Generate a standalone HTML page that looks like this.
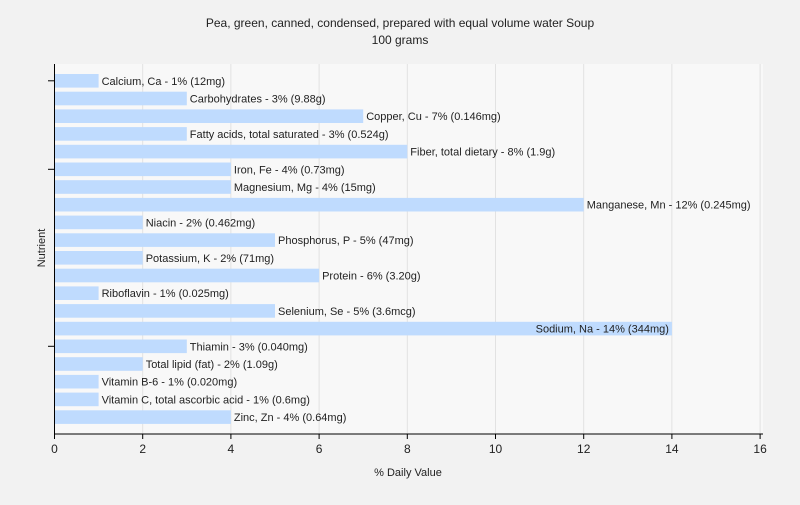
<!DOCTYPE html>
<html><head><meta charset="utf-8"><style>
body{margin:0;background:#f2f2f2;font-family:"Liberation Sans",sans-serif;}
svg text{font-family:"Liberation Sans",sans-serif;}
</style></head><body>
<svg id="c" width="800" height="500">
<rect width="800" height="500" fill="#f2f2f2"/>
<rect x="54" y="64" width="709" height="370" fill="#f8f8f8"/>
<text x="400" y="27" text-anchor="middle" font-size="12" fill="#222">Pea, green, canned, condensed, prepared with equal volume water Soup</text>
<text x="400" y="44" text-anchor="middle" font-size="12" fill="#222">100 grams</text>
<text x="408" y="476" text-anchor="middle" font-size="11" fill="#222">% Daily Value</text>
<text transform="translate(45,248) rotate(-90)" text-anchor="middle" font-size="11" fill="#222">Nutrient</text>
<g id="grid"></g><g id="bars"></g><g id="axes"></g>
</svg>
<script>
const categories=["Calcium, Ca","Carbohydrates","Copper, Cu","Fatty acids, total saturated","Fiber, total dietary","Iron, Fe","Magnesium, Mg","Manganese, Mn","Niacin","Phosphorus, P","Potassium, K","Protein","Riboflavin","Selenium, Se","Sodium, Na","Thiamin","Total lipid (fat)","Vitamin B-6","Vitamin C, total ascorbic acid","Zinc, Zn"];
const values=[1,3,7,3,8,4,4,12,2,5,2,6,1,5,14,3,2,1,1,4];
const amounts=["12mg","9.88g","0.146mg","0.524g","1.9g","0.73mg","15mg","0.245mg","0.462mg","47mg","71mg","3.20g","0.025mg","3.6mcg","344mg","0.040mg","1.09g","0.020mg","0.6mg","0.64mg"];
const xTicks=[0,2,4,6,8,10,12,14,16];
const yTickIdx=[0,5,15];
const NS="http://www.w3.org/2000/svg";
const x=v=>54.5+v*44.1;
const yc=i=>80.8+i*17.7;
function mk(t,a,p){const e=document.createElementNS(NS,t);for(const k in a)e.setAttribute(k,a[k]);p.appendChild(e);return e;}
const grid=document.getElementById('grid'),bars=document.getElementById('bars'),axes=document.getElementById('axes');
xTicks.forEach(t=>{
 if(t>0){const g=mk('line',{x1:x(t),x2:x(t),y1:64,y2:434,stroke:'#e2e2e2'},grid);
 
 }
 const tk=mk('line',{x1:x(t),x2:x(t),y1:434,y2:439,stroke:'#000'},axes);
 
 
 const tl=mk('text',{x:x(t),y:453,'text-anchor':'middle','font-size':12,fill:'#222'},axes);
 tl.textContent=t;
 
 
});
categories.forEach((c,i)=>{
 const r=mk('rect',{x:x(0),y:yc(i)-6.8,width:x(values[i])-x(0),height:13.6,fill:'#bfdbfe'},bars);
 
 
 const t=mk('text',{x:x(values[i])+3,y:yc(i)+4,'font-size':11,fill:'#222'},bars);
 t.textContent=c+' - '+values[i]+'% ('+amounts[i]+')';
 
 
 if(x(values[i])+3+t.getComputedTextLength()>763){t.setAttribute('x',x(values[i])-3);t.setAttribute('text-anchor','end');}
});
yTickIdx.forEach(i=>{
 const k=mk('line',{x1:48,x2:54.5,y1:yc(i),y2:yc(i),stroke:'#000'},axes);
 
 
});
const ya=mk('line',{x1:54.5,x2:54.5,y1:64,y2:434,stroke:'#000'},axes);


const xa=mk('line',{x1:54.5,x2:763,y1:434,y2:434,stroke:'#000'},axes);


</script>
</body></html>
